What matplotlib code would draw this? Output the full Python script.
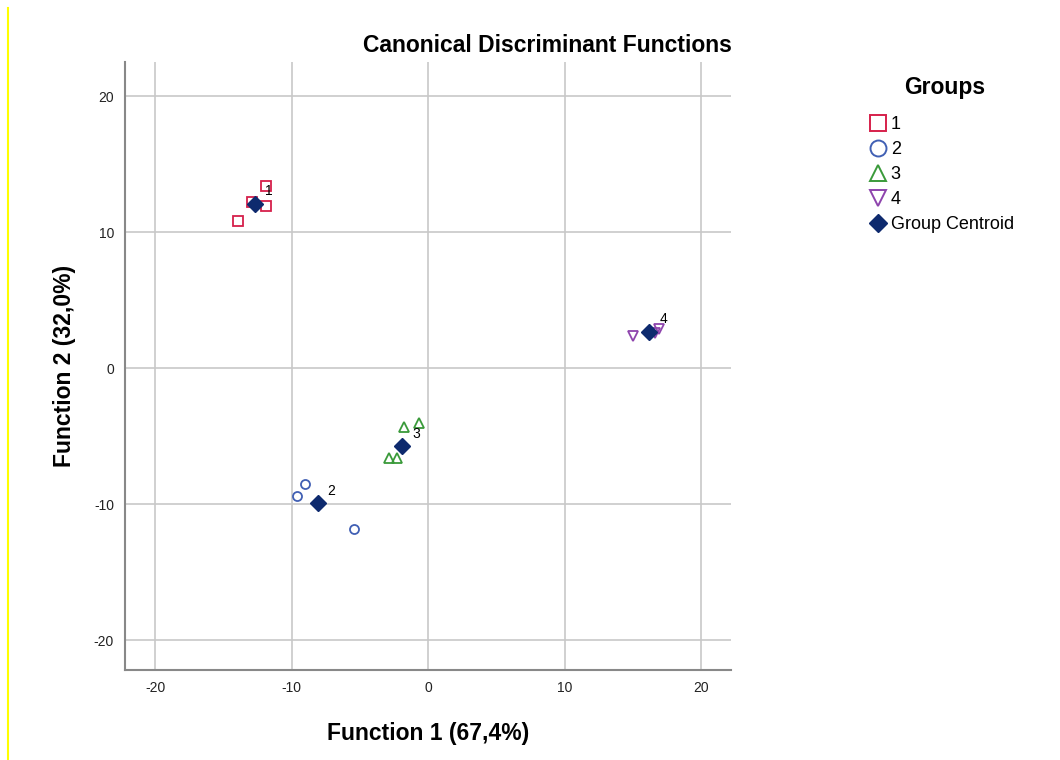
import matplotlib
matplotlib.use("Agg")
import matplotlib.pyplot as plt
from matplotlib.lines import Line2D

plt.rcParams['font.family'] = ['Liberation Sans', 'DejaVu Sans']
plt.rcParams['axes.unicode_minus'] = False

# Data
g1_x = [-11.9, -11.9, -13.9, -12.9]
g1_y = [13.4, 11.9, 10.8, 12.2]
g2_x = [-9.0, -9.6, -5.4]
g2_y = [-8.5, -9.4, -11.8]
g3_x = [-1.8, -0.7, -2.9, -2.3]
g3_y = [-4.3, -4.0, -6.6, -6.6]
g4_x = [15.0, 16.9, 16.6]
g4_y = [2.4, 2.9, 2.6]
centroid_x = [-12.7, -8.1, -1.9, 16.2]
centroid_y = [12.1, -9.9, -5.7, 2.7]
centroid_labels = ["1", "2", "3", "4"]
ticks = [-20, -10, 0, 10, 20]

c1, c2, c3, c4 = '#d6204b', '#4160b4', '#3a9a3a', '#8e44ad'
cc = '#0e2a6e'

fig = plt.figure(figsize=(10.6, 7.6), dpi=100)
ax = fig.add_axes([0.118, 0.118, 0.572, 0.800])

ms = 6.5
ax.plot(g1_x, g1_y, 's', mfc='none', mec=c1, ms=ms, mew=1.3, ls='none')
ax.plot(g2_x, g2_y, 'o', mfc='none', mec=c2, ms=ms, mew=1.3, ls='none')
ax.plot(g3_x, g3_y, '^', mfc='none', mec=c3, ms=ms, mew=1.3, ls='none')
ax.plot(g4_x, g4_y, 'v', mfc='none', mec=c4, ms=ms, mew=1.3, ls='none')
ax.plot(centroid_x, centroid_y, 'D', color=cc, ms=8, ls='none')
for x, y, t in zip(centroid_x, centroid_y, centroid_labels):
    ax.annotate(t, (x, y), xytext=(7, 6), textcoords='offset points', fontsize=10, color='black')

ax.set_xlim(-22.2, 22.2)
ax.set_ylim(-22.2, 22.5)
ax.set_xticks(ticks)
ax.set_yticks(ticks)
ax.tick_params(labelsize=10, length=0, pad=8, labelcolor='#222222')
ax.grid(True, color='#c8c8c8', lw=1.2)
ax.set_axisbelow(True)
for s in ['top', 'right']:
    ax.spines[s].set_visible(False)
for s in ['left', 'bottom']:
    ax.spines[s].set_color('#888888')
    ax.spines[s].set_linewidth(1.5)

ax.set_title('Canonical Discriminant Functions', loc='right', fontsize=16.5, fontweight='bold', pad=7.5)
ax.set_xlabel('Function 1 (67,4%)', fontsize=16.5, fontweight='bold', labelpad=19)
ax.set_ylabel('Function 2 (32,0%)', fontsize=16.5, fontweight='bold', labelpad=13)

handles = [
    Line2D([], [], marker='s', mfc='none', mec=c1, ms=11.5, mew=1.4, ls='none'),
    Line2D([], [], marker='o', mfc='none', mec=c2, ms=11.5, mew=1.4, ls='none'),
    Line2D([], [], marker='^', mfc='none', mec=c3, ms=11.5, mew=1.4, ls='none'),
    Line2D([], [], marker='v', mfc='none', mec=c4, ms=11.5, mew=1.4, ls='none'),
    Line2D([], [], marker='D', color=cc, ms=9, ls='none'),
]
leg = fig.legend(handles, ['1', '2', '3', '4', 'Group Centroid'], title='Groups',
                 loc='upper left', bbox_to_anchor=(0.808, 0.917), frameon=False,
                 fontsize=13, handlelength=1.0, handletextpad=0.2, labelspacing=0.44,
                 borderpad=0.2, title_fontproperties={'weight': 'bold', 'size': 16.5})
leg._legend_box.align = 'left'
leg._legend_box.sep = 12.5
leg.get_title().set_position((35, 0))

fig.add_artist(Line2D([0.0075, 0.0075], [0.0, 0.99], color='#ffff00', lw=1.5, transform=fig.transFigure))

fig.savefig('out.png', dpi=100)
